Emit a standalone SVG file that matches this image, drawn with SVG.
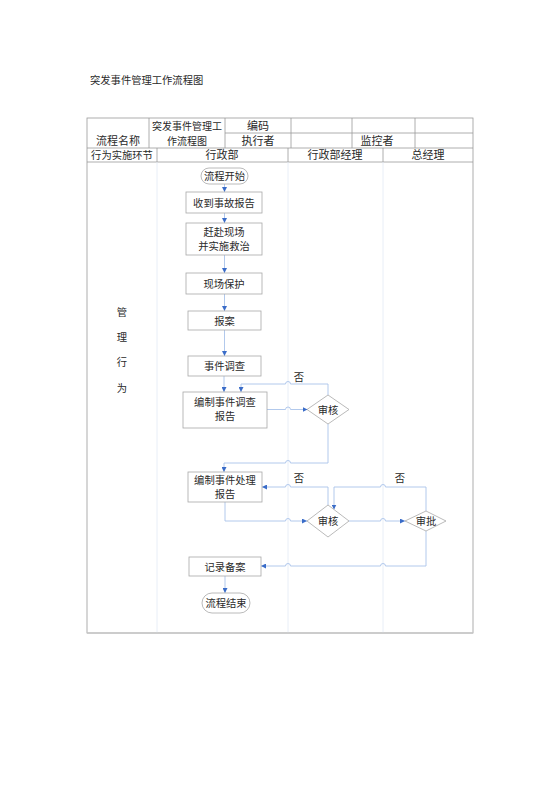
<svg xmlns="http://www.w3.org/2000/svg" width="560" height="792" viewBox="0 0 560 792">
<style>
text{font-family:"Liberation Serif","Noto Sans CJK SC",serif;fill:#2a2a2a;text-anchor:middle}
.t{font-size:11px}
.s{font-size:10px}
.n{font-size:10.3px}
.tb{stroke:#9a9a9a;stroke-width:0.8;fill:none}
.lane{stroke:#e2eaf5;stroke-width:0.8;fill:none}
.box{fill:#fff;stroke:#a8a8a8;stroke-width:0.8}
.c{fill:none;stroke:#a9c3ea;stroke-width:0.9}
</style>
<defs>
<marker id="ah" viewBox="0 0 6 6" refX="6" refY="3" markerWidth="5" markerHeight="5" orient="auto" markerUnits="userSpaceOnUse">
<path d="M0,0 L6,3 L0,6 Z" fill="#3a6cc8"/>
</marker>
</defs>
<rect width="560" height="792" fill="#fff"/>
<text x="90" y="84" class="n" style="text-anchor:start">突发事件管理工作流程图</text>

<g id="table">
<rect x="87" y="118" width="386" height="515" class="tb"/>
<line x1="225" y1="133" x2="473" y2="133" class="tb"/>
<line x1="87" y1="148" x2="473" y2="148" class="tb"/>
<line x1="87" y1="162" x2="473" y2="162" class="tb"/>
<line x1="149" y1="118" x2="149" y2="148" class="tb"/>
<line x1="225" y1="118" x2="225" y2="148" class="tb"/>
<line x1="291" y1="118" x2="291" y2="148" class="tb"/>
<line x1="352" y1="118" x2="352" y2="148" class="tb"/>
<line x1="415" y1="118" x2="415" y2="148" class="tb"/>
<line x1="157" y1="148" x2="157" y2="162" class="tb"/>
<line x1="288" y1="148" x2="288" y2="162" class="tb"/>
<line x1="383" y1="148" x2="383" y2="162" class="tb"/>
<line x1="157" y1="162" x2="157" y2="633" class="lane"/>
<line x1="288" y1="162" x2="288" y2="633" class="lane"/>
<line x1="383" y1="162" x2="383" y2="633" class="lane"/>
<line x1="87" y1="633" x2="473" y2="633" stroke="#c8c8c8" stroke-width="1.5"/>
<text x="118" y="144.5" class="t">流程名称</text>
<text x="187" y="130" class="s">突发事件管理工</text>
<text x="187" y="145" class="s">作流程图</text>
<text x="258" y="130" class="t">编码</text>
<text x="258" y="145" class="t">执行者</text>
<text x="377" y="145" class="t">监控者</text>
<text x="122" y="159" class="n">行为实施环节</text>
<text x="222" y="159" class="t">行政部</text>
<text x="335" y="159" class="t">行政部经理</text>
<text x="428" y="159" class="t">总经理</text>
<text x="122" y="316" class="n">管</text>
<text x="122" y="341" class="n">理</text>
<text x="122" y="366" class="n">行</text>
<text x="122" y="392" class="n">为</text>
</g>

<g id="connectors">
<path d="M224.5,184 V192" class="c" marker-end="url(#ah)"/>
<path d="M224.5,213 V223" class="c" marker-end="url(#ah)"/>
<path d="M224.5,255 V273" class="c" marker-end="url(#ah)"/>
<path d="M224.5,294 V311" class="c" marker-end="url(#ah)"/>
<path d="M224.5,330 V356" class="c" marker-end="url(#ah)"/>
<path d="M224,376 V392" class="c" marker-end="url(#ah)"/>
<path d="M267,409.5 H285.5 A2.5,2.5 0 0 1 290.5,409.5 H307.5" class="c" marker-end="url(#ah)"/>
<path d="M328,395 V384 H290.5 A2.5,2.5 0 0 0 285.5,384 H241 V392" class="c" marker-end="url(#ah)"/>
<path d="M328,424 V463 H290.5 A2.5,2.5 0 0 0 285.5,463 H224 V472" class="c" marker-end="url(#ah)"/>
<path d="M225,502 V521 H285.5 A2.5,2.5 0 0 1 290.5,521 H307" class="c" marker-end="url(#ah)"/>
<path d="M328,505 V487 H290.5 A2.5,2.5 0 0 0 285.5,487 H262" class="c" marker-end="url(#ah)"/>
<path d="M349,521 H380.5 A2.5,2.5 0 0 1 385.5,521 H405" class="c" marker-end="url(#ah)"/>
<path d="M426,511 V487 H385.5 A2.5,2.5 0 0 0 380.5,487 H334 V509.5" class="c" marker-end="url(#ah)"/>
<path d="M426,531 V566 H385.5 A2.5,2.5 0 0 0 380.5,566 H290.5 A2.5,2.5 0 0 0 285.5,566 H261" class="c" marker-end="url(#ah)"/>
<path d="M225,576 V593" class="c" marker-end="url(#ah)"/>
<text x="299" y="381" class="n">否</text>
<text x="299" y="482" class="n">否</text>
<text x="400" y="482" class="n">否</text>
</g>

<g id="start">
<rect x="201" y="168" width="47" height="16" rx="8" class="box"/>
<text x="224.5" y="180" class="n">流程开始</text>
</g>
<g id="receive">
<rect x="186" y="192" width="76" height="21" class="box"/>
<text x="224" y="206.5" class="n">收到事故报告</text>
</g>
<g id="rush">
<rect x="186" y="223" width="76" height="32" class="box"/>
<text x="224" y="236" class="n">赶赴现场</text>
<text x="224" y="250" class="n">并实施救治</text>
</g>
<g id="protect">
<rect x="186" y="273" width="76" height="21" class="box"/>
<text x="224" y="287.5" class="n">现场保护</text>
</g>
<g id="report">
<rect x="188" y="311" width="73" height="19" class="box"/>
<text x="224.5" y="324.5" class="n">报案</text>
</g>
<g id="investigate">
<rect x="188" y="356" width="73" height="20" class="box"/>
<text x="224.5" y="370" class="n">事件调查</text>
</g>
<g id="invreport">
<rect x="183" y="392" width="84" height="36" class="box"/>
<text x="225" y="406" class="n">编制事件调查</text>
<text x="225" y="420" class="n">报告</text>
</g>
<g id="review1">
<path d="M328,395 L349,409.5 L328,424 L307,409.5 Z" class="box"/>
<text x="328" y="413.5" class="n">审核</text>
</g>
<g id="handreport">
<rect x="188" y="472" width="74" height="30" class="box"/>
<text x="225" y="484" class="n">编制事件处理</text>
<text x="225" y="498" class="n">报告</text>
</g>
<g id="review2">
<path d="M328,505 L349,521 L328,537 L307,521 Z" class="box"/>
<text x="328" y="525" class="n">审核</text>
</g>
<g id="approve">
<path d="M426,511 L446,521 L426,531 L405,521 Z" class="box"/>
<text x="426" y="525" class="n">审批</text>
</g>
<g id="record">
<rect x="189" y="557" width="72" height="19" class="box"/>
<text x="225" y="570.5" class="n">记录备案</text>
</g>
<g id="end">
<rect x="202" y="593" width="48" height="20" rx="10" class="box"/>
<text x="226" y="607" class="n">流程结束</text>
</g>
</svg>
